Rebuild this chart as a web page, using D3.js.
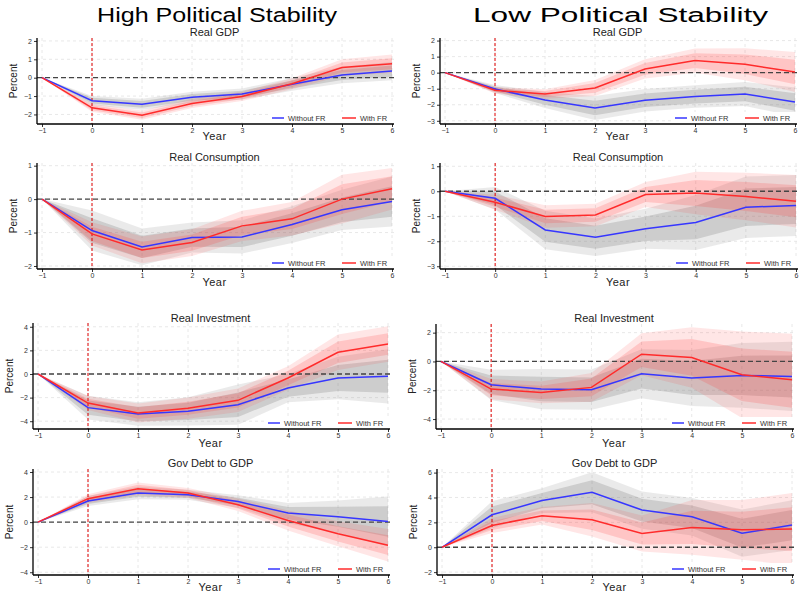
<!DOCTYPE html>
<html><head><meta charset="utf-8">
<script src="https://cdn.jsdelivr.net/npm/d3@7"></script>
<style>
body{margin:0;background:#fff;}
svg{display:block;font-family:"Liberation Sans",Arial,sans-serif;}
</style></head>
<body><svg id="c" width="800" height="593"></svg>
<script>
// ---------- data ----------
const years = [-1, 0, 1, 2, 3, 4, 5, 6];
const columnTitles = ["High Political Stability", "Low Political Stability"];
const panelTitles = ["Real GDP", "Real Consumption", "Real Investment", "Gov Debt to GDP"];
const seriesNames = ["Without FR", "With FR"];

const gdpHighWithout = [0, -1.25, -1.45, -1.07, -0.89, -0.36, 0.15, 0.36];
const gdpHighWith    = [0, -1.64, -2.04, -1.40, -1.02, -0.33, 0.55, 0.76];
const gdpHighWithoutCI = [0, 0.25, 0.30, 0.30, 0.30, 0.35, 0.45, 0.50];
const gdpHighWithCI    = [0, 0.22, 0.25, 0.25, 0.25, 0.30, 0.45, 0.50];

const gdpLowWithout = [0, -1.02, -1.70, -2.20, -1.72, -1.49, -1.33, -1.83];
const gdpLowWith    = [0, -1.10, -1.33, -0.95, 0.23, 0.75, 0.52, 0.04];
const gdpLowWithoutCI = [0, 0.25, 0.50, 0.75, 0.70, 0.70, 0.75, 0.90];
const gdpLowWithCI    = [0, 0.20, 0.30, 0.50, 0.60, 0.75, 1.00, 1.25];

const consHighWithout = [0, -0.94, -1.43, -1.15, -1.13, -0.76, -0.32, -0.07];
const consHighWith    = [0, -1.04, -1.52, -1.30, -0.80, -0.59, 0.00, 0.31];
const consHighWithoutCI = [0, 0.60, 0.55, 0.45, 0.50, 0.55, 0.60, 0.75];
const consHighWithCI    = [0, 0.35, 0.40, 0.40, 0.45, 0.50, 0.73, 0.62];

const consLowWithout = [0, -0.28, -1.55, -1.84, -1.50, -1.25, -0.64, -0.57];
const consLowWith    = [0, -0.44, -1.01, -0.95, -0.13, -0.07, -0.21, -0.40];
const consLowWithoutCI = [0, 0.45, 0.77, 0.75, 0.80, 1.10, 1.23, 1.22];
const consLowWithCI    = [0, 0.30, 0.45, 0.45, 0.50, 0.85, 0.95, 1.05];

const invHighWithout = [0, -2.85, -3.39, -3.16, -2.60, -1.19, -0.34, -0.20];
const invHighWith    = [0, -2.46, -3.30, -2.90, -2.23, -0.34, 1.84, 2.54];
const invHighWithoutCI = [0, 1.00, 1.00, 1.20, 1.70, 1.20, 1.80, 2.30];
const invHighWithCI    = [0, 0.60, 0.80, 0.90, 1.00, 1.00, 1.50, 1.50];

const invLowWithout = [0, -1.62, -1.92, -1.96, -0.85, -1.15, -0.97, -1.04];
const invLowWith    = [0, -1.92, -2.15, -1.80, 0.50, 0.28, -0.92, -1.27];
const invLowWithoutCI = [0, 1.05, 1.40, 1.40, 1.70, 1.95, 2.25, 2.40];
const invLowWithCI    = [0, 0.70, 0.75, 1.00, 1.45, 2.10, 3.00, 3.20];

const debtHighWithout = [0, 1.68, 2.32, 2.19, 1.65, 0.72, 0.43, 0.05];
const debtHighWith    = [0, 1.87, 2.67, 2.32, 1.39, 0.13, -0.93, -1.84];
const debtHighWithoutCI = [0, 0.40, 0.50, 0.40, 0.50, 0.80, 1.30, 2.00];
const debtHighWithCI    = [0, 0.35, 0.50, 0.40, 0.50, 0.80, 1.00, 1.30];

const debtLowWithout = [0, 2.61, 3.75, 4.42, 2.99, 2.45, 1.13, 1.78];
const debtLowWith    = [0, 1.75, 2.53, 2.21, 1.10, 1.59, 1.40, 1.46];
const debtLowWithoutCI = [0, 1.08, 1.00, 1.60, 1.50, 1.50, 1.90, 2.00];
const debtLowWithCI    = [0, 0.60, 0.70, 1.35, 1.45, 2.20, 2.40, 2.90];

// y tick labels per panel
const ticksGdpHigh  = [-2, -1, 0, 1, 2];
const ticksGdpLow   = [-3, -2, -1, 0, 1, 2];
const ticksConsHigh = [-2, -1, 0, 1];
const ticksConsLow  = [-3, -2, -1, 0, 1];
const ticksInvHigh  = [-4, -2, 0, 2, 4];
const ticksInvLow   = [-4, -2, 0, 2];
const ticksDebtHigh = [-4, -2, 0, 2, 4];
const ticksDebtLow  = [-2, 0, 2, 4, 6];

// ratio of 68% to 90% interval half-width (z 1.0 / 1.645)
const innerRatio = 1 / 1.645;

// ---------- layout ----------
const panels = [
  {title: 0, col: 0, xL: 42, xR: 392, top: 38, bottom: 124, dom: [-2.52, 2.16], ticks: ticksGdpHigh, a: gdpHighWithout, b: gdpHighWith, aci: gdpHighWithoutCI, bci: gdpHighWithCI, yearY: 140, titleY: 36},
  {title: 0, col: 1, xL: 445, xR: 795, top: 38, bottom: 124, dom: [-3.2, 2.16], ticks: ticksGdpLow, a: gdpLowWithout, b: gdpLowWith, aci: gdpLowWithoutCI, bci: gdpLowWithCI, yearY: 140, titleY: 36},
  {title: 1, col: 0, xL: 42, xR: 392, top: 163, bottom: 269, dom: [-2.09, 1.08], ticks: ticksConsHigh, a: consHighWithout, b: consHighWith, aci: consHighWithoutCI, bci: consHighWithCI, yearY: 286, titleY: 161},
  {title: 1, col: 1, xL: 445, xR: 796, top: 163, bottom: 269, dom: [-3.11, 1.13], ticks: ticksConsLow, a: consLowWithout, b: consLowWith, aci: consLowWithoutCI, bci: consLowWithCI, yearY: 286, titleY: 161},
  {title: 2, col: 0, xL: 38, xR: 388, top: 323, bottom: 429, dom: [-4.66, 4.32], ticks: ticksInvHigh, a: invHighWithout, b: invHighWith, aci: invHighWithoutCI, bci: invHighWithCI, yearY: 447, titleY: 322},
  {title: 2, col: 1, xL: 441, xR: 792, top: 324, bottom: 429, dom: [-4.69, 2.6], ticks: ticksInvLow, a: invLowWithout, b: invLowWith, aci: invLowWithoutCI, bci: invLowWithCI, yearY: 447, titleY: 322},
  {title: 3, col: 0, xL: 38, xR: 388, top: 469, bottom: 575, dom: [-4.22, 4.24], ticks: ticksDebtHigh, a: debtHighWithout, b: debtHighWith, aci: debtHighWithoutCI, bci: debtHighWithCI, yearY: 591, titleY: 467},
  {title: 3, col: 1, xL: 442, xR: 792, top: 469, bottom: 575, dom: [-2.23, 6.29], ticks: ticksDebtLow, a: debtLowWithout, b: debtLowWith, aci: debtLowWithoutCI, bci: debtLowWithCI, yearY: 591, titleY: 467}
];

const svg = d3.select("#c");
const BLUE = "#3636ff", RED = "#ff2b2b";

svg.selectAll("text.main").data(columnTitles).enter().append("text")
  .attr("x", (d, i) => i === 0 ? 97 : 473).attr("y", 22)
  .attr("font-size", 20).attr("fill", "#000")
  .attr("textLength", (d, i) => i === 0 ? 240 : 295).attr("lengthAdjust", "spacingAndGlyphs")
  .text(d => d);

const fmt = d3.format("d");

panels.forEach(p => {
  const g = svg.append("g");
  const x = d3.scaleLinear().domain([-1, 6]).range([p.xL, p.xR]);
  const y = d3.scaleLinear().domain(p.dom).range([p.bottom, p.top]);
  const axX = p.xL - 5;

  // grid
  g.selectAll("line.gx").data(years).enter().append("line")
    .attr("x1", d => x(d)).attr("x2", d => x(d)).attr("y1", p.top).attr("y2", p.bottom)
    .attr("stroke", "#e2e2e2").attr("stroke-width", 0.8).attr("stroke-dasharray", "3,3");
  g.selectAll("line.gy").data(p.ticks).enter().append("line")
    .attr("x1", axX).attr("x2", p.xR + 3).attr("y1", d => y(d)).attr("y2", d => y(d))
    .attr("stroke", "#e2e2e2").attr("stroke-width", 0.8).attr("stroke-dasharray", "3,3");

  const clipId = "clip" + p.title + p.col;
  g.append("clipPath").attr("id", clipId).append("rect")
    .attr("x", axX).attr("y", p.top).attr("width", p.xR + 3 - axX).attr("height", p.bottom - p.top);
  const plot = g.append("g").attr("clip-path", `url(#${clipId})`);

  const band = (vals, ci, k) => d3.area()
    .x((d, i) => x(years[i]))
    .y0((d, i) => y(vals[i] - ci[i] * k))
    .y1((d, i) => y(vals[i] + ci[i] * k))(vals);

  // gray bands (without FR)
  plot.append("path").attr("d", band(p.a, p.aci, 1)).attr("fill", "#808080").attr("fill-opacity", 0.17);
  plot.append("path").attr("d", band(p.a, p.aci, innerRatio)).attr("fill", "#808080").attr("fill-opacity", 0.28);
  // red bands (with FR)
  plot.append("path").attr("d", band(p.b, p.bci, 1)).attr("fill", "#ff3030").attr("fill-opacity", 0.12);
  plot.append("path").attr("d", band(p.b, p.bci, innerRatio)).attr("fill", "#ff3030").attr("fill-opacity", 0.18);

  // zero line
  plot.append("line").attr("x1", axX).attr("x2", p.xR + 3).attr("y1", y(0)).attr("y2", y(0))
    .attr("stroke", "#444").attr("stroke-width", 1.3).attr("stroke-dasharray", "5,3");
  // shock line
  plot.append("line").attr("x1", x(0)).attr("x2", x(0)).attr("y1", p.top).attr("y2", p.bottom)
    .attr("stroke", "#e00000").attr("stroke-width", 1).attr("stroke-dasharray", "3,2");

  const line = vals => d3.line().x((d, i) => x(years[i])).y(d => y(d))(vals);
  plot.append("path").attr("d", line(p.a)).attr("fill", "none").attr("stroke", BLUE).attr("stroke-width", 1.5);
  plot.append("path").attr("d", line(p.b)).attr("fill", "none").attr("stroke", RED).attr("stroke-width", 1.5);

  // axes
  const ya = g.append("g").attr("transform", `translate(${axX},0)`)
    .call(d3.axisLeft(y).tickValues(p.ticks).tickFormat(fmt).tickSize(3).tickSizeOuter(0).tickPadding(2));
  ya.select(".domain").remove();
  ya.selectAll("text").attr("font-size", 7).attr("fill", "#333").attr("font-family", "Liberation Sans, Arial");
  ya.selectAll("line").attr("stroke", "#333");
  const xa = g.append("g").attr("transform", `translate(0,${p.bottom})`)
    .call(d3.axisBottom(x).tickValues(years).tickFormat(fmt).tickSize(3).tickSizeOuter(0).tickPadding(1));
  xa.select(".domain").remove();
  xa.selectAll("text").attr("font-size", 7).attr("fill", "#333").attr("font-family", "Liberation Sans, Arial");
  xa.selectAll("line").attr("stroke", "#333");
  g.append("line").attr("x1", axX).attr("x2", axX).attr("y1", p.top).attr("y2", p.bottom)
    .attr("stroke", "#000").attr("stroke-width", 1.3);
  g.append("line").attr("x1", axX).attr("x2", p.xR + 2).attr("y1", p.bottom).attr("y2", p.bottom)
    .attr("stroke", "#000").attr("stroke-width", 1.3);

  // titles
  const cx = (axX + p.xR) / 2;
  g.append("text").attr("x", cx).attr("y", p.titleY).attr("text-anchor", "middle")
    .attr("font-size", 11).attr("fill", "#222").text(panelTitles[p.title]);
  g.append("text").attr("x", cx).attr("y", p.yearY).attr("text-anchor", "middle")
    .attr("font-size", 11).attr("fill", "#222").attr("letter-spacing", 0.5).text("Year");
  const my = (p.top + p.bottom) / 2;
  g.append("text").attr("transform", `translate(${axX - 20},${my}) rotate(-90)`)
    .attr("text-anchor", "middle").attr("font-size", 10).attr("fill", "#222").text("Percent");

  // legend
  const x6 = x(6), ly = p.bottom - 6;
  g.append("rect").attr("x", x6 - 124).attr("y", ly - 6).attr("width", 126).attr("height", 11).attr("fill", "#fff");
  const leg = [
    {x1: x6 - 120, x2: x6 - 108, tx: x6 - 104, c: BLUE, t: seriesNames[0]},
    {x1: x6 - 50, x2: x6 - 36, tx: x6 - 32, c: RED, t: seriesNames[1]}
  ];
  leg.forEach(l => {
    g.append("line").attr("x1", l.x1).attr("x2", l.x2).attr("y1", ly).attr("y2", ly)
      .attr("stroke", l.c).attr("stroke-width", 1.5);
    g.append("text").attr("x", l.tx).attr("y", ly + 2.5).attr("font-size", 7.5).attr("fill", "#333").text(l.t);
  });
});
</script></body></html>
